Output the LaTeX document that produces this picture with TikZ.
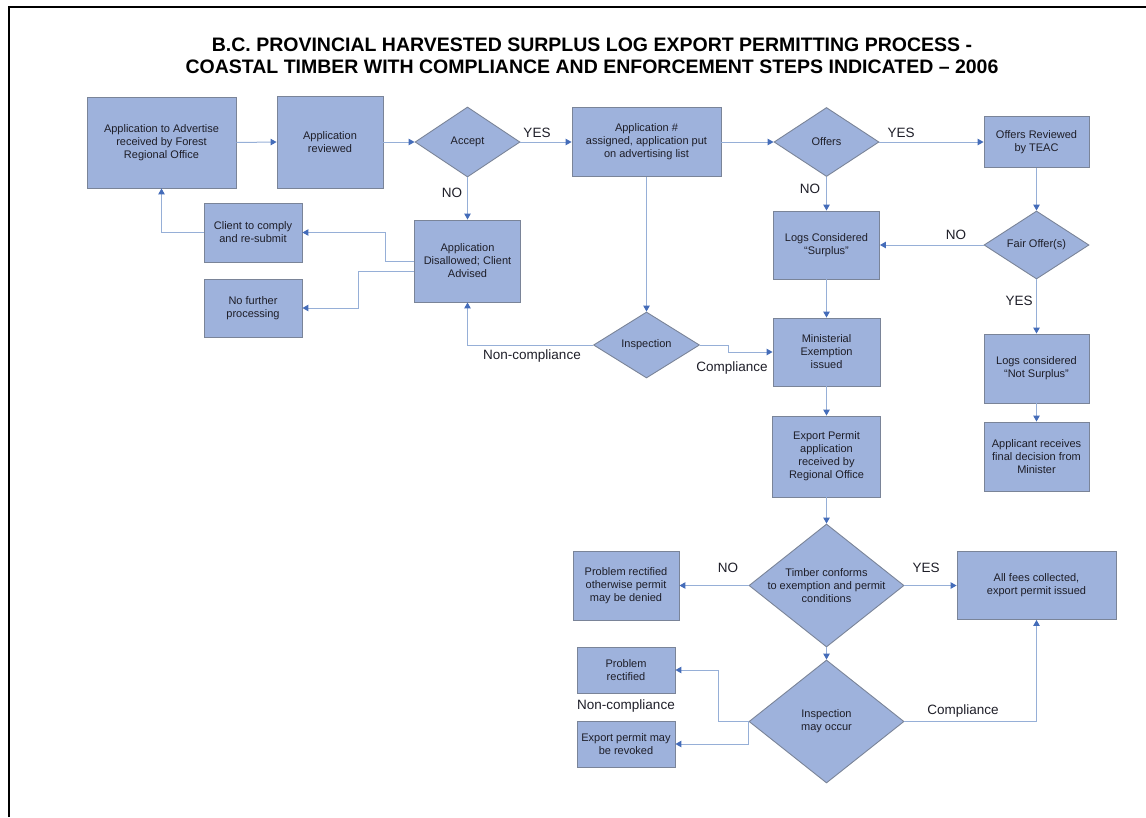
\documentclass[tikz,border=0pt]{standalone}
\usepackage{fontspec}
\setmainfont{Liberation Sans}
\usetikzlibrary{shapes.geometric,arrows.meta}
\definecolor{boxfill}{RGB}{158,178,220}
\definecolor{boxline}{RGB}{122,132,152}
\definecolor{linec}{RGB}{150,175,215}
\definecolor{tipc}{RGB}{68,108,185}
\definecolor{txt}{RGB}{30,30,40}
\tikzset{
  box/.style={draw=boxline, fill=boxfill, line width=0.9pt, align=center, inner sep=0pt,
    text=txt, font=\fontsize{11}{13}\selectfont},
  dia/.style={diamond, draw=boxline, fill=boxfill, line width=0.9pt, inner sep=0pt},
  diatext/.style={align=center, text=txt, font=\fontsize{11}{13}\selectfont, inner sep=0pt},
  conn/.style={draw=linec, line width=1pt, -{Triangle[length=6pt,width=6.5pt,color=tipc]}},
  lbl/.style={text=txt, font=\fontsize{13.5}{15}\selectfont, inner sep=0pt}
}
\begin{document}
\begin{tikzpicture}[x=1pt,y=-1pt]
\useasboundingbox (0,0) rectangle (1146,817);
\draw[line width=2pt] (9,817) -- (9,6.5) -- (1146,6.5);

\node[text=black, font=\fontsize{19.5}{22.5}\bfseries\selectfont, align=center] (title) at (592,56)
 {B.C. PROVINCIAL HARVESTED SURPLUS LOG EXPORT PERMITTING PROCESS -\\
  COASTAL TIMBER WITH COMPLIANCE AND ENFORCEMENT STEPS INDICATED – 2006};

% boxes
\node[box, minimum width=149pt, minimum height=91pt] (A) at (161.5,142.5) {Application to Advertise\\received by Forest\\Regional Office};
\node[box, minimum width=106pt, minimum height=92pt] (B) at (330,142) {Application\\reviewed};
\node[dia, minimum width=105pt, minimum height=70pt] (acc) at (467.5,142) {};
\node[diatext] (acct) at (acc) {Accept};
\node[box, minimum width=149pt, minimum height=69pt] (C) at (646.5,142) {Application \#\\assigned, application put\\on advertising list};
\node[dia, minimum width=105pt, minimum height=69pt] (off) at (826.5,142) {};
\node[diatext] (offt) at (off) {Offers};
\node[box, minimum width=105pt, minimum height=51pt] (D) at (1036.5,142) {Offers Reviewed\\by TEAC};
\node[box, minimum width=106pt, minimum height=82pt] (E) at (467.5,261) {Application\\Disallowed; Client\\Advised};
\node[box, minimum width=98pt, minimum height=59pt] (F) at (253,232.5) {Client to comply\\and re-submit};
\node[box, minimum width=98pt, minimum height=58pt] (G) at (253,308) {No further\\processing};
\node[box, minimum width=106pt, minimum height=68pt] (H) at (826.5,245) {Logs Considered\\“Surplus”};
\node[dia, minimum width=105pt, minimum height=68pt] (fair) at (1036.5,245) {};
\node[diatext] (fairt) at (fair) {Fair Offer(s)};
\node[dia, minimum width=106pt, minimum height=66pt] (insp) at (646.5,345) {};
\node[diatext] (inspt) at (insp) {Inspection};
\node[box, minimum width=107pt, minimum height=68pt] (I) at (826.5,352) {Ministerial\\Exemption\\issued};
\node[box, minimum width=105pt, minimum height=69pt] (J) at (1036.5,368.5) {Logs considered\\“Not Surplus”};
\node[box, minimum width=105pt, minimum height=69pt] (K) at (1036.5,456.5) {Applicant receives\\final decision from\\Minister};
\node[box, minimum width=108pt, minimum height=81pt] (L) at (826.5,456.5) {Export Permit\\application\\received by\\Regional Office};
\node[dia, minimum width=155pt, minimum height=123pt] (tim) at (826.5,585.5) {};
\node[diatext] (timt) at (tim) {Timber conforms\\to exemption and permit\\conditions};
\node[box, minimum width=106pt, minimum height=69pt] (M) at (626,585.5) {Problem rectified\\otherwise permit\\may be denied};
\node[box, minimum width=159pt, minimum height=68pt] (N) at (1036.5,585.5) {All fees collected,\\export permit issued};
\node[dia, minimum width=155pt, minimum height=123pt] (insm) at (826.5,721.5) {};
\node[diatext] (insmt) at (insm) {Inspection\\may occur};
\node[box, minimum width=98pt, minimum height=46pt] (O) at (626,670) {Problem\\rectified};
\node[box, minimum width=98pt, minimum height=46pt] (P) at (626,744) {Export permit may\\be revoked};

% connectors
\draw[conn] (A.east) -- (B.west);
\draw[conn] (B.east) -- (acc.west);
\draw[conn] (acc.east) -- (C.west);
\draw[conn] (C.east) -- (off.west);
\draw[conn] (off.east) -- (D.west);
\draw[conn] (acc.south) -- (E.north);
\draw[conn] (off.south) -- (H.north);
\draw[conn] (D.south) -- (fair.north);
\draw[conn] (fair.west) -- (H.east);
\draw[conn] (fair.south) -- (J.north);
\draw[conn] (J.south) -- (K.north);
\draw[conn] (H.south) -- (I.north);
\draw[conn] (I.south) -- (L.north);
\draw[conn] (L.south) -- (tim.north);
\draw[conn] (C.south) -- (insp.north);
\draw[conn] (insp.west) -| (E.south);
\draw[conn] (insp.east) -- ++(29,0) |- (I.west);
\draw[conn] (E.west) -- ++(-29,0) |- (F.east);
\draw[conn] ([yshift=-10pt]E.west) -- ++(-56,0) |- (G.east);
\draw[conn] (F.west) -| (A.south);
\draw[conn] (tim.west) -- (M.east);
\draw[conn] (tim.east) -- (N.west);
\draw[conn] (tim.south) -- (insm.north);
\draw[conn] (insm.west) -- ++(-30,0) |- (O.east);
\draw[conn] (insm.west) |- (P.east);
\draw[conn] (insm.east) -| (N.south);

% labels
\node[lbl] (l1) at (537,133) {YES};
\node[lbl] (l2) at (901,133) {YES};
\node[lbl] (l3) at (452,193) {NO};
\node[lbl] (l4) at (810,189) {NO};
\node[lbl] (l5) at (956,235) {NO};
\node[lbl] (l6) at (1019,301) {YES};
\node[lbl] (l7) at (532,356) {Non-compliance};
\node[lbl] (l8) at (732,368) {Compliance};
\node[lbl] (l9) at (728,568) {NO};
\node[lbl] (l10) at (926,568) {YES};
\node[lbl] (l11) at (626,706) {Non-compliance};
\node[lbl] (l12) at (963,711) {Compliance};
\end{tikzpicture}
\end{document}
